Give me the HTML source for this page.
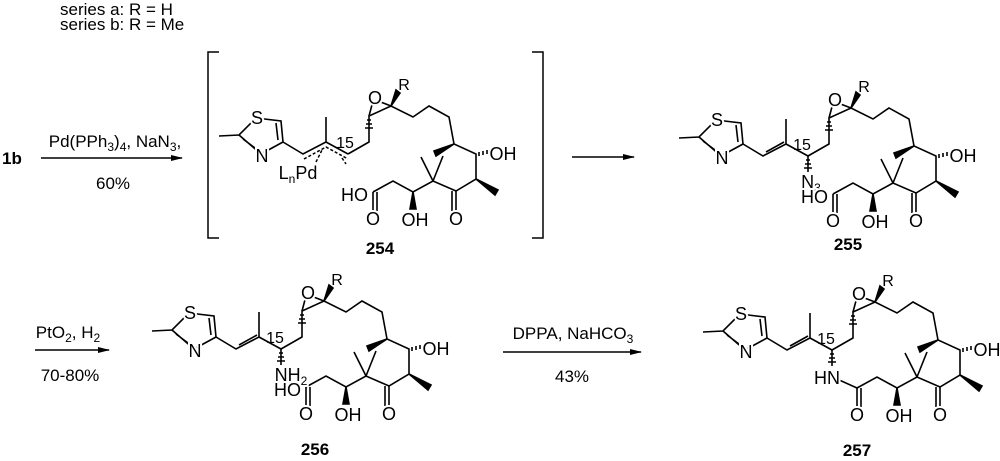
<!DOCTYPE html>
<html><head><meta charset="utf-8"><style>
html,body{margin:0;padding:0;background:#fff}
svg{display:block}
text{font-family:"Liberation Sans",sans-serif;fill:#000}
.a{font-size:18px;text-anchor:middle;stroke:#fff;stroke-width:4px;paint-order:stroke}
.s{font-size:12px}
.r{font-size:16px}
.b{font-weight:bold;font-size:17px;text-anchor:middle}
</style></head><body>
<svg width="1000" height="461" viewBox="0 0 1000 461" xmlns="http://www.w3.org/2000/svg">
<defs>
<marker id="ah" markerWidth="12" markerHeight="8" refX="11" refY="4" orient="auto" markerUnits="userSpaceOnUse">
<path d="M0,1 L12,4 L0,7 Z" fill="#000"/></marker>
<g id="thz" stroke="#000" stroke-width="1.6" fill="none">
<path d="M703,332 L723,331 L740,314 M723,331 L745,350 M727,335 L743,347 M745,350 L767,338 L765,317 L740,314 M762,336 L760,319"/>
</g>
<g id="vin" stroke="#000" stroke-width="1.6" fill="none">
<path d="M767,338 L787,350 L810,338 L810,313 M790,346 L808,336 M810,338 L832,350"/>
</g>
<g id="core" stroke="#000" stroke-width="1.6" fill="none">
<path d="M832,350 L853,338 L853,312 L875,302 L897,313 L913,302 L933,313 L938,340 L960,350 L960,375 L940,387 L917,377 L897,388 L877,377 L857,388"/>
<path d="M853,312 L857,297 M875,302 L862,297"/>
<path d="M917,377 L905,353 M917,377 L927,352"/>
<path d="M940,387 L940,407 M936,387 L936,407"/>
<path d="M857,388 L857,407 M861,388 L861,407"/>
<path d="M875,302 L884,289 L880,286 Z" fill="#000"/>
<path d="M938,340 L918,347 L920,352 Z" fill="#000"/>
<path d="M960,375 L982,386 L979,391 Z" fill="#000"/>
<path d="M897,388 L894,405 L900,405 Z" fill="#000"/>
<path d="M963,348 L963,352 M967,347 L967,351 M971,346 L971,350 M975,345 L975,349" />
<path d="M855,316 L851,316 M856,320 L850,320 M857,324 L849,324"/>
</g>
</defs>

<!-- header -->
<text x="60" y="15" style="font-size:17px">series a: R = H</text>
<text x="60" y="30" style="font-size:17px">series b: R = Me</text>

<!-- arrow 1 -->
<text x="2" y="164" style="font-size:17px;font-weight:bold">1b</text>
<line x1="41" y1="158" x2="182" y2="158" stroke="#000" stroke-width="1.5" marker-end="url(#ah)"/>
<text x="115" y="147" style="font-size:17px" text-anchor="middle">Pd(PPh<tspan class="s" dy="4">3</tspan><tspan dy="-4">)</tspan><tspan class="s" dy="4">4</tspan><tspan dy="-4">, NaN</tspan><tspan class="s" dy="4">3</tspan><tspan dy="-4">,</tspan></text>
<text x="113" y="189" style="font-size:17px" text-anchor="middle">60%</text>

<!-- brackets -->
<path d="M219,52 L208,52 L208,238 L219,238 M532,52 L543,52 L543,238 L532,238" stroke="#000" stroke-width="1.5" fill="none"/>

<!-- arrow 2 -->
<line x1="572" y1="157" x2="634" y2="157" stroke="#000" stroke-width="1.5" marker-end="url(#ah)"/>

<!-- arrow 3 -->
<line x1="35" y1="350" x2="109" y2="350" stroke="#000" stroke-width="1.5" marker-end="url(#ah)"/>
<text x="68" y="338" style="font-size:17px" text-anchor="middle">PtO<tspan class="s" dy="4">2</tspan><tspan dy="-4">, H</tspan><tspan class="s" dy="4">2</tspan></text>
<text x="70" y="381" style="font-size:17px" text-anchor="middle">70-80%</text>

<!-- arrow 4 -->
<line x1="503" y1="352" x2="641" y2="352" stroke="#000" stroke-width="1.5" marker-end="url(#ah)"/>
<text x="573" y="339" style="font-size:17px" text-anchor="middle">DPPA, NaHCO<tspan class="s" dy="4">3</tspan></text>
<text x="572" y="382" style="font-size:17px" text-anchor="middle">43%</text>

<!-- 257 -->
<g>
<use href="#thz"/><use href="#vin"/><use href="#core"/>
<path d="M832,350 L832,366 M830,354 L834,354 M829,358 L835,358 M828,362 L836,362 M837,379 L857,388" stroke="#000" stroke-width="1.6" fill="none"/>
<text class="a" x="741" y="320">S</text>
<text class="a" x="746" y="358">N</text>
<text class="r" x="826" y="344" text-anchor="middle">15</text>
<text class="a" x="859" y="300">O</text>
<text class="r" x="888" y="286" text-anchor="middle">R</text>
<text class="a" x="987" y="356">OH</text>
<text class="a" x="940" y="421">O</text>
<text class="a" x="857" y="421">O</text>
<text class="a" x="899" y="422">OH</text>
<text class="a" x="827" y="384">HN</text>
<text class="b" x="857" y="456">257</text>
</g>

<!-- 256 -->
<g transform="translate(-551,-1)">
<use href="#thz"/><use href="#vin"/><use href="#core"/>
<path d="M832,350 L832,366 M830,354 L834,354 M829,358 L835,358 M828,362 L836,362" stroke="#000" stroke-width="1.6" fill="none"/>
<text class="a" x="741" y="320">S</text>
<text class="a" x="746" y="358">N</text>
<text class="r" x="826" y="344" text-anchor="middle">15</text>
<text class="a" x="859" y="300">O</text>
<text class="r" x="888" y="286" text-anchor="middle">R</text>
<text class="a" x="987" y="356">OH</text>
<text class="a" x="940" y="421">O</text>
<text class="a" x="857" y="421">O</text>
<text class="a" x="899" y="422">OH</text>
<text class="a" x="842" y="382">NH<tspan class="s" dy="4">2</tspan></text>
<text class="a" x="852" y="397" style="text-anchor:end">HO</text>
<text class="b" x="866" y="456">256</text>
</g>

<!-- 255 -->
<g transform="translate(-24,-194)">
<use href="#thz"/><use href="#vin"/><use href="#core"/>
<path d="M832,350 L832,366 M830,354 L834,354 M829,358 L835,358 M828,362 L836,362" stroke="#000" stroke-width="1.6" fill="none"/>
<text class="a" x="741" y="320">S</text>
<text class="a" x="746" y="358">N</text>
<text class="r" x="826" y="344" text-anchor="middle">15</text>
<text class="a" x="859" y="300">O</text>
<text class="r" x="888" y="286" text-anchor="middle">R</text>
<text class="a" x="987" y="356">OH</text>
<text class="a" x="940" y="421">O</text>
<text class="a" x="857" y="421">O</text>
<text class="a" x="899" y="422">OH</text>
<text class="a" x="835" y="382">N<tspan class="s" dy="4">3</tspan></text>
<text class="a" x="852" y="397" style="text-anchor:end">HO</text>
</g>
<text class="b" x="848" y="250">255</text>

<!-- 254 -->
<g transform="translate(-484,-196)">
<use href="#thz"/><use href="#core"/>
<path d="M767,338 L787,350 L810,338 L810,313 M810,338 L832,350" stroke="#000" stroke-width="1.6" fill="none"/>
<path d="M788,355 L810,343 L832,355 M800,358 L806,346 M826,354 L830,360" stroke="#000" stroke-width="1.5" stroke-dasharray="3,2" fill="none"/>
<text class="a" x="741" y="320">S</text>
<text class="a" x="746" y="358">N</text>
<text class="r" x="829" y="344" text-anchor="middle">15</text>
<text class="a" x="859" y="300">O</text>
<text class="r" x="888" y="286" text-anchor="middle">R</text>
<text class="a" x="987" y="356">OH</text>
<text class="a" x="940" y="421">O</text>
<text class="a" x="857" y="421">O</text>
<text class="a" x="899" y="422">OH</text>
<text x="782" y="375" style="font-size:18px" text-anchor="middle">L<tspan class="s" dy="4">n</tspan><tspan dy="-4">Pd</tspan></text>
<text class="a" x="852" y="397" style="text-anchor:end">HO</text>
<text class="b" x="864" y="450">254</text>
</g>
</svg>
</body></html>
